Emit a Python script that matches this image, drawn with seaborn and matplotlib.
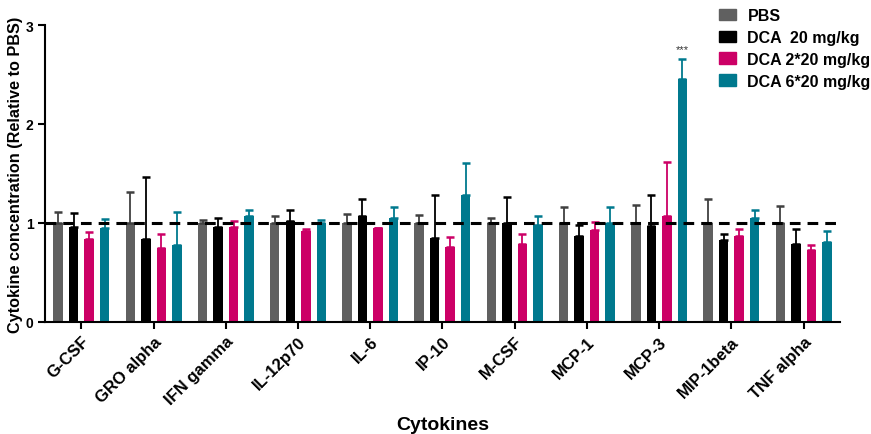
import numpy as np
import pandas as pd
import matplotlib
matplotlib.use("Agg")
import matplotlib.pyplot as plt
import seaborn as sns

cytokines = ["G-CSF", "GRO alpha", "IFN gamma", "IL-12p70", "IL-6", "IP-10",
             "M-CSF", "MCP-1", "MCP-3", "MIP-1beta", "TNF alpha"]
groups = ["PBS", "DCA  20 mg/kg", "DCA 2*20 mg/kg", "DCA 6*20 mg/kg"]

# mean values (relative to PBS)
pbs_mean = [1.00, 1.00, 1.00, 1.00, 1.00, 1.00, 1.00, 1.00, 1.00, 1.00, 1.00]
dca1_mean = [0.96, 0.84, 0.96, 1.02, 1.07, 0.85, 1.00, 0.87, 0.97, 0.83, 0.79]
dca2_mean = [0.84, 0.75, 0.96, 0.92, 0.95, 0.76, 0.79, 0.93, 1.07, 0.87, 0.73]
dca6_mean = [0.95, 0.78, 1.07, 1.00, 1.05, 1.28, 0.98, 1.00, 2.45, 1.05, 0.81]

# upper error (SEM)
pbs_err = [0.11, 0.31, 0.03, 0.07, 0.09, 0.08, 0.045, 0.16, 0.18, 0.24, 0.17]
dca1_err = [0.14, 0.62, 0.085, 0.11, 0.17, 0.43, 0.26, 0.11, 0.31, 0.055, 0.145]
dca2_err = [0.07, 0.14, 0.06, 0.02, 0.0, 0.10, 0.10, 0.08, 0.55, 0.07, 0.045]
dca6_err = [0.09, 0.33, 0.065, 0.03, 0.11, 0.33, 0.09, 0.16, 0.21, 0.08, 0.11]

colors = ["#606060", "#000000", "#cc0066", "#00798e"]
err_colors = ["#404040", "#000000", "#cc0066", "#00798e"]

means = [pbs_mean, dca1_mean, dca2_mean, dca6_mean]
errs = [pbs_err, dca1_err, dca2_err, dca6_err]

df = pd.DataFrame({
    "Cytokine": np.tile(cytokines, len(groups)),
    "Group": np.repeat(groups, len(cytokines)),
    "Value": np.concatenate(means),
})

plt.rcParams["font.family"] = ["Liberation Sans", "DejaVu Sans"]
plt.rcParams["font.weight"] = "bold"

fig = plt.figure(figsize=(8.71, 4.35), dpi=100)
ax = fig.add_axes([0.052, 0.258, 0.912, 0.682])

sns.barplot(data=df, x="Cytokine", y="Value", hue="Group", order=cytokines,
            hue_order=groups, palette=colors, width=0.86, gap=0.39,
            errorbar=None, saturation=1, ax=ax, legend=False)

# error bars (upper only), placed on the seaborn bars
for gi in range(len(groups)):
    bars = ax.containers[gi]
    xs = [b.get_x() + b.get_width() / 2 for b in bars]
    ys = [b.get_height() for b in bars]
    ax.errorbar(xs, ys, yerr=[np.zeros(len(ys)), errs[gi]], fmt="none",
                ecolor=err_colors[gi], elinewidth=1.3, capsize=3, capthick=1.8,
                zorder=1)

# significance mark
mcp3 = ax.containers[3][cytokines.index("MCP-3")]
ax.text(mcp3.get_x() + mcp3.get_width() / 2,
        dca6_mean[8] + dca6_err[8] + 0.1, "***", ha="center", va="center",
        fontsize=8, fontweight="normal", color="#333333")

ax.axhline(1.0, color="black", linestyle=(0, (3.5, 2.3)), linewidth=2.2, zorder=5)

ax.set_ylim(0, 3)
ax.set_xlim(-0.5, 10.5)
ax.set_yticks([0, 1, 2, 3])
ax.spines["top"].set_visible(False)
ax.spines["right"].set_visible(False)
for s in ["left", "bottom"]:
    ax.spines[s].set_linewidth(1.5)
ax.tick_params(axis="both", width=1.5, length=5)
ax.tick_params(axis="y", labelsize=10)
ax.set_xticks(range(len(cytokines)))
ax.set_xticklabels(cytokines, rotation=45, ha="right", rotation_mode="anchor",
                   fontsize=12, fontweight="bold")
for lab in ax.get_yticklabels():
    lab.set_fontweight("bold")

ax.set_ylabel("Cytokine concentration (Relative to PBS)", fontsize=11.7,
              fontweight="bold", va="center")
ax.yaxis.set_label_coords(-0.037, 0.5)
ax.set_xlabel("Cytokines", fontsize=14, fontweight="bold", va="center")
ax.xaxis.set_label_coords(0.5, -0.345)

handles = [plt.Rectangle((0, 0), 1, 1, color=c) for c in colors]
ax.legend(handles, groups, loc="upper left", bbox_to_anchor=(0.826, 0.979),
          bbox_transform=fig.transFigure, borderaxespad=0, borderpad=0,
          frameon=False, handlelength=1.06, handleheight=0.75,
          labelspacing=0.43, handletextpad=0.69,
          prop={"weight": "bold", "size": 11.5})

fig.savefig("out.png", dpi=100)
